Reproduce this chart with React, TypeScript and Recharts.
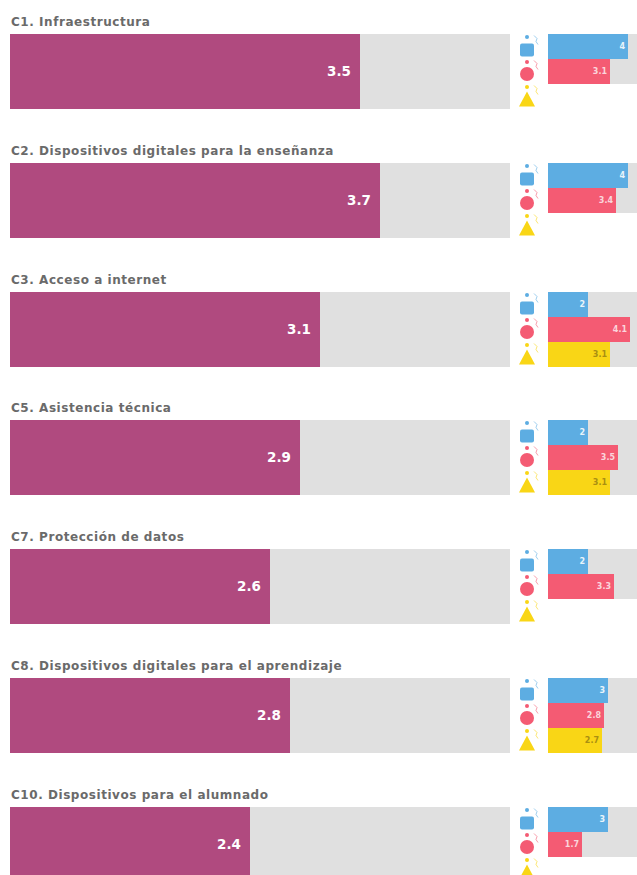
import { BarChart, Bar, Cell, LabelList, XAxis, YAxis } from "recharts";

const categories = [
  "C1. Infraestructura",
  "C2. Dispositivos digitales para la enseñanza",
  "C3. Acceso a internet",
  "C5. Asistencia técnica",
  "C7. Protección de datos",
  "C8. Dispositivos digitales para el aprendizaje",
  "C10. Dispositivos para el alumnado",
];
const overall = [3.5, 3.7, 3.1, 2.9, 2.6, 2.8, 2.4];
const leaders = [4, 4, 2, 2, 2, 3, 3];
const teachers = [3.1, 3.4, 4.1, 3.5, 3.3, 2.8, 1.7];
const students = [null, null, 3.1, 3.1, null, 2.7, null];
const rowTops = [34, 163, 292, 420, 549, 678, 807];

const GROUP_COLORS = ["#5dade2", "#f45b73", "#f9d616"];
const GROUP_TEXT = ["#e8f4fb", "#fbd5dc", "#a98f12"];
const TRACK = "#e0e0e0";

function GroupIcon({ x, y, payload }: any) {
  const color = GROUP_COLORS[payload.index];
  const cx = x - 13;
  return (
    <g>
      <circle cx={cx} cy={y - 9.5} r={2} fill={color} />
      <path
        d={`M${cx + 7} ${y - 11} l3 3 l-1 3 l2 3`}
        fill="none"
        stroke={color}
        strokeWidth={1}
        opacity={0.6}
      />
      {payload.index === 0 && <rect x={cx - 7} y={y - 3} width={14} height={13} rx={2} fill={color} />}
      {payload.index === 1 && <circle cx={cx} cy={y + 2.5} r={7} fill={color} />}
      {payload.index === 2 && <path d={`M${cx} ${y - 5} L${cx + 8} ${y + 10} L${cx - 8} ${y + 10} Z`} fill={color} />}
    </g>
  );
}

function SmallLabel({ x, y, width, height, value, index }: any) {
  // a group with no score keeps its grey track but shows no number
  if (!value) return null;
  return (
    <text
      x={x + width - 3}
      y={y + height / 2}
      fill={GROUP_TEXT[index]}
      fontSize={8}
      fontWeight={700}
      textAnchor="end"
      dominantBaseline="central"
    >
      {value}
    </text>
  );
}

function Row({ i }: { i: number }) {
  const top = rowTops[i];
  const main = [{ name: categories[i], value: overall[i] }];
  const groups = [
    { group: 0, value: leaders[i] },
    { group: 1, value: teachers[i] },
    { group: 2, value: students[i] ?? 0 },
  ];
  return (
    <>
      <div
        style={{
          position: "absolute",
          left: 11,
          top: top - 19,
          fontSize: 12,
          letterSpacing: 0.55,
          lineHeight: "14px",
          fontWeight: 700,
          color: "#6a6a6a",
          whiteSpace: "nowrap",
        }}
      >
        {categories[i]}
      </div>
      <div style={{ position: "absolute", left: 10, top }}>
        <BarChart
          width={500}
          height={75}
          layout="vertical"
          data={main}
          margin={{ top: 0, right: 0, bottom: 0, left: 0 }}
          barCategoryGap={0}
        >
          <XAxis type="number" domain={[0, 5]} hide />
          <YAxis type="category" dataKey="name" hide />
          <Bar dataKey="value" fill="#b04a7f" background={{ fill: TRACK }} isAnimationActive={false}>
            <LabelList dataKey="value" position="insideRight" offset={9} fill="#ffffff" fontSize={13.5} fontWeight={700} />
          </Bar>
        </BarChart>
      </div>
      <div style={{ position: "absolute", left: 510, top, width: 127, height: 75, overflow: "hidden" }}>
        <BarChart
          width={138}
          height={75}
          layout="vertical"
          data={groups}
          margin={{ top: 0, right: 0, bottom: 0, left: 0 }}
          barCategoryGap={0}
        >
          <XAxis type="number" domain={[0, 5]} hide />
          <YAxis
            type="category"
            dataKey="group"
            width={38}
            axisLine={false}
            tickLine={false}
            interval={0}
            tick={<GroupIcon />}
          />
          <Bar dataKey="value" background={{ fill: TRACK }} isAnimationActive={false}>
            {groups.map((g) => (
              <Cell key={g.group} fill={GROUP_COLORS[g.group]} />
            ))}
            <LabelList dataKey="value" content={<SmallLabel />} />
          </Bar>
        </BarChart>
      </div>
    </>
  );
}

export default function App() {
  return (
    <div
      style={{
        position: "absolute",
        left: 0,
        top: 0,
        width: 637,
        height: 875,
        overflow: "hidden",
        background: "#ffffff",
        fontFamily: "'DejaVu Sans', sans-serif",
      }}
    >
      {categories.map((_, i) => (
        <Row key={i} i={i} />
      ))}
    </div>
  );
}
